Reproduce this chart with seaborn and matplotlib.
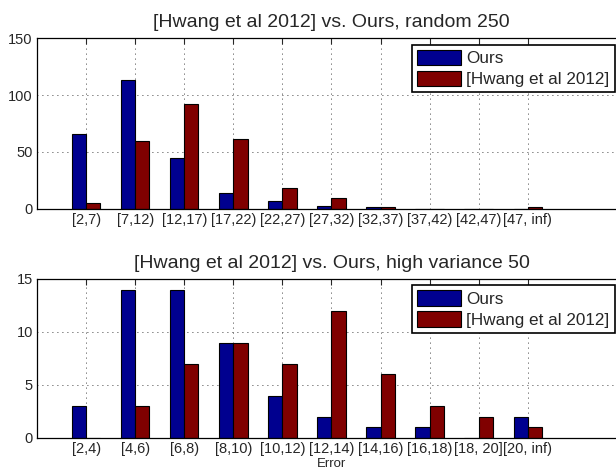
import pandas as pd
import matplotlib
matplotlib.use("Agg")
import matplotlib.pyplot as plt
import seaborn as sns

# ── Data ───────────────────────────────────────────────────────────────────────
bins_random = ["[2,7)", "[7,12)", "[12,17)", "[17,22)", "[22,27)",
               "[27,32)", "[32,37)", "[37,42)", "[42,47)", "[47, inf)"]
ours_random = [66, 113, 45, 14, 7, 3, 2, 0, 0, 0]
hwang_random = [5, 60, 92, 61, 18, 10, 2, 0, 0, 2]

bins_hv = ["[2,4)", "[4,6)", "[6,8)", "[8,10)", "[10,12)",
           "[12,14)", "[14,16)", "[16,18)", "[18, 20]", "[20, inf)"]
ours_hv = [3, 14, 14, 9, 4, 2, 1, 1, 0, 2]
hwang_hv = [0, 3, 7, 9, 7, 12, 6, 3, 2, 1]

methods = ["Ours", "[Hwang et al 2012]"]
COLORS = ["#00008F", "#800000"]

sns.set_style("white")
plt.rcParams.update({
    "font.family": ["Liberation Sans", "DejaVu Sans"],
    "axes.linewidth": 0.9,
    "axes.edgecolor": "black",
    "xtick.direction": "in",
    "ytick.direction": "in",
})


def _long(bins, ours, hwang):
    return pd.DataFrame({
        "bin": bins * 2,
        "count": ours + hwang,
        "method": [methods[0]] * len(bins) + [methods[1]] * len(bins),
    })


def _panel(ax, bins, ours, hwang, title, ymax, yticks):
    df = _long(bins, ours, hwang)
    sns.barplot(data=df, x="bin", y="count", hue="method", order=bins,
                hue_order=methods, palette=COLORS, width=0.58,
                edgecolor="black", linewidth=0.8, saturation=1, ax=ax)
    ax.set_xlim(-1, 11)
    ax.set_ylim(0, ymax)
    ax.set_yticks(yticks)
    ax.set_xticks(range(len(bins)))
    ax.set_xticklabels(bins, fontsize=10.5)
    ax.tick_params(axis="y", labelsize=10.5, length=4, pad=3)
    ax.tick_params(axis="x", length=4, pad=3, top=True)
    ax.set_xlabel("")
    ax.set_ylabel("")
    ax.grid(True, color="black", linestyle=(0, (1, 5)), linewidth=0.6)
    ax.set_axisbelow(True)
    ax.set_title(title, fontsize=14, pad=8)
    handles, labels = ax.get_legend_handles_labels()
    ax.legend(handles, labels, loc="upper right", bbox_to_anchor=(0.981, 0.96),
              borderaxespad=0, fontsize=12.3, frameon=True, fancybox=False,
              edgecolor="black", framealpha=1, handlelength=2.6,
              handleheight=1.0, handletextpad=0.3, labelspacing=0.25,
              borderpad=0.3)
    ax.get_legend().get_frame().set_linewidth(1.2)


fig = plt.figure(figsize=(6.16, 4.71), dpi=100)
ax1 = fig.add_axes([0.0601, 0.5563, 0.956, 0.363])
ax2 = fig.add_axes([0.0601, 0.0701, 0.956, 0.3376])

_panel(ax1, bins_random, ours_random, hwang_random,
       "[Hwang et al 2012] vs. Ours, random 250", 150, [0, 50, 100, 150])
_panel(ax2, bins_hv, ours_hv, hwang_hv,
       "[Hwang et al 2012] vs. Ours, high variance 50", 15, [0, 5, 10, 15])
ax2.set_xlabel("Error", fontsize=9.5, labelpad=1)

fig.savefig("out.png", dpi=100)
